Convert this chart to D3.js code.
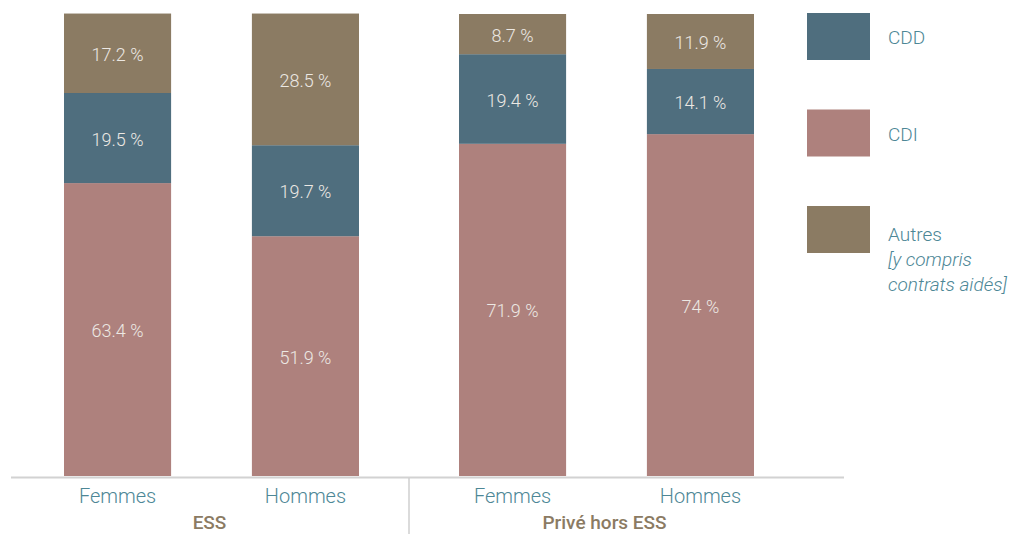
<!DOCTYPE html>
<html>
<head>
<meta charset="utf-8">
<script src="https://cdn.jsdelivr.net/npm/d3@7"></script>
<style>
  body { margin: 0; background: #fff; }
  svg { display: block; font-family: Roboto, "Noto Sans", sans-serif; }
</style>
</head>
<body>
<svg id="chart"></svg>
<script>
// repartition des contrats, ESS vs prive hors ESS
var width = 1025,
    height = 534;

var groups = ["ESS", "Privé hors ESS"];
var sexes = ["Femmes", "Hommes"];
var seriesKeys = ["CDI", "CDD", "Autres"];   // bottom -> top

var cdiValues = [63.4, 51.9, 71.9, 74];
var cddValues = [19.5, 19.7, 19.4, 14.1];
var autresValues = [17.2, 28.5, 8.7, 11.9];
var cdiLabels = ["63.4 %", "51.9 %", "71.9 %", "74 %"];
var cddLabels = ["19.5 %", "19.7 %", "19.4 %", "14.1 %"];
var autresLabels = ["17.2 %", "28.5 %", "8.7 %", "11.9 %"];

var legendKeys = ["CDD", "CDI", "Autres"];
var legendNotes = ["", "", "[y compris|contrats aidés]"];

var colors = { CDI: "#ae817d", CDD: "#4f6e7e", Autres: "#8b7b63" };

// build rows for the stack
var rows = [];
groups.forEach(function(g, gi) {
  sexes.forEach(function(s, si) {
    var i = gi * 2 + si;
    rows.push({
      group: g, sex: s,
      CDI: cdiValues[i], CDD: cddValues[i], Autres: autresValues[i],
      labels: { CDI: cdiLabels[i], CDD: cddLabels[i], Autres: autresLabels[i] }
    });
  });
});

var svg = d3.select("#chart")
  .attr("width", width)
  .attr("height", height);

var baseY = 476;

var xGroup = d3.scaleBand()
  .domain(groups)
  .range([18, 808]);

var xInner = d3.scaleBand()
  .domain(sexes)
  .range([46, 341])
  .paddingInner(0.43)
  .paddingOuter(0);

var y = d3.scaleLinear()
  .domain([0, 100])
  .range([baseY, 14]);

var stack = d3.stack().keys(seriesKeys);
var stacked = stack(rows);

var layer = svg.selectAll("g.layer")
  .data(stacked)
  .enter()
  .append("g")
    .attr("class", "layer")
    .attr("fill", d => colors[d.key]);

layer.selectAll("rect")
  .data(d => d.map(p => ({ p: p, key: d.key })))
  .enter()
  .append("rect")
    .attr("x", d => xGroup(d.p.data.group) + xInner(d.p.data.sex))
    .attr("y", d => y(d.p[1]))
    .attr("width", xInner.bandwidth())
    .attr("height", d => y(d.p[0]) - y(d.p[1]));

layer.selectAll("text")
  .data(d => d.map(p => ({ p: p, key: d.key })))
  .enter()
  .append("text")
    .attr("x", d => xGroup(d.p.data.group) + xInner(d.p.data.sex) + xInner.bandwidth() / 2)
    .attr("y", d => (y(d.p[0]) + y(d.p[1])) / 2)
    .attr("dy", "0.42em")
    .attr("text-anchor", "middle")
    .attr("fill", "#ece8e3")
    .style("font-size", "18px")
    .style("font-weight", 300)
    .text(d => d.p.data.labels[d.key]);

// baseline
svg.append("line")
  .attr("x1", 11).attr("x2", 844)
  .attr("y1", baseY + 1.5).attr("y2", baseY + 1.5)
  .attr("stroke", "#d2d2d2")
  .attr("stroke-width", 2);

// separator between groups
var sepX = (xGroup("ESS") + xInner("Hommes") + xInner.bandwidth() + xGroup("Privé hors ESS") + xInner("Femmes")) / 2;
svg.append("line")
  .attr("x1", sepX).attr("x2", sepX)
  .attr("y1", baseY + 2).attr("y2", height)
  .attr("stroke", "#cfcfcf")
  .attr("stroke-width", 1.5);

// category labels
svg.selectAll("text.cat")
  .data(rows)
  .enter()
  .append("text")
    .attr("class", "cat")
    .attr("x", d => xGroup(d.group) + xInner(d.sex) + xInner.bandwidth() / 2)
    .attr("y", 503)
    .attr("text-anchor", "middle")
    .attr("fill", "#4d8796")
    .style("font-size", "20px")
    .style("font-weight", 300)
    .text(d => d.sex);

// group labels
svg.selectAll("text.grp")
  .data(groups)
  .enter()
  .append("text")
    .attr("class", "grp")
    .attr("x", g => xGroup(g) + (xInner("Femmes") + xInner("Hommes") + xInner.bandwidth()) / 2 - 2)
    .attr("y", 529)
    .attr("text-anchor", "middle")
    .attr("fill", "#8b7b63")
    .style("font-size", "19px")
    .style("font-weight", 500)
    .text(g => g);

// legend
var legY = d3.scalePoint()
  .domain(legendKeys)
  .range([13, 206]);

var leg = svg.selectAll("g.leg")
  .data(legendKeys)
  .enter()
  .append("g")
    .attr("class", "leg")
    .attr("transform", k => "translate(807," + legY(k) + ")");

leg.append("rect")
  .attr("width", 63)
  .attr("height", 47)
  .attr("fill", k => colors[k]);

leg.append("text")
  .attr("x", 81)
  .attr("y", (k, i) => i === 2 ? 35 : 31)
  .attr("fill", "#4d8796")
  .style("font-size", "19px")
  .style("font-weight", 300)
  .text(k => k);

leg.each(function(k, i) {
  if (!legendNotes[i]) return;
  var t = d3.select(this).append("text")
    .attr("x", 81)
    .attr("y", 35)
    .attr("fill", "#4d8796")
    .style("font-size", "19px")
    .style("font-weight", 300)
    .style("font-style", "italic");
  legendNotes[i].split("|").forEach(function(line, li) {
    t.append("tspan")
      .attr("x", 81)
      .attr("dy", 25)
      .text(line);
  });
});
</script>
</body>
</html>
